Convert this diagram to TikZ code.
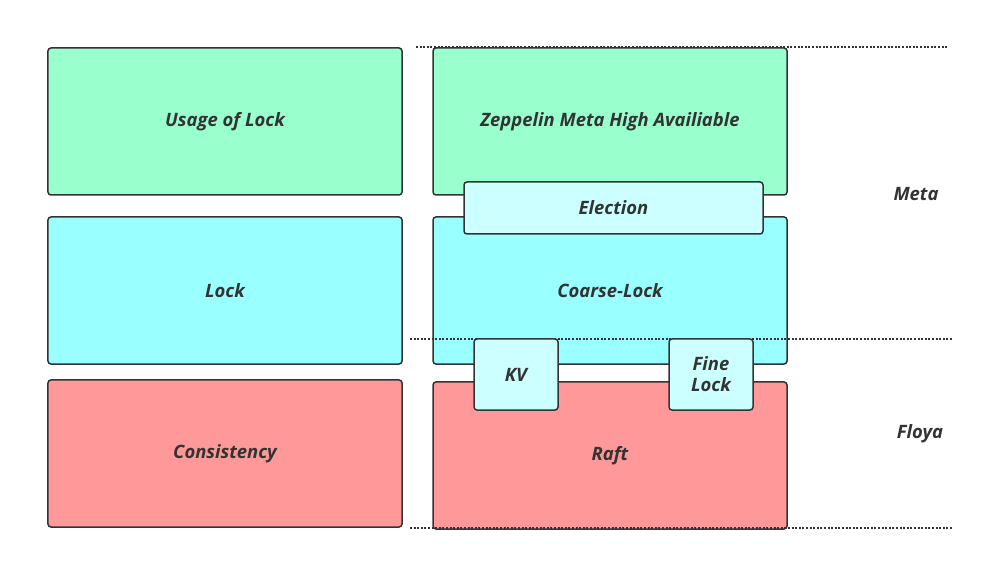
\documentclass[tikz,border=0pt]{standalone}
\usepackage{fontspec}
\setmainfont{Open Sans}
\definecolor{gbox}{HTML}{99FFCC}
\definecolor{cbox}{HTML}{99FFFF}
\definecolor{rbox}{HTML}{FF9999}
\definecolor{lbox}{HTML}{CCFFFF}
\definecolor{edge}{HTML}{333333}
\tikzset{
  blk/.style={draw=edge, line width=1.5bp, rounded corners=3bp, inner sep=0pt, outer sep=0pt,
    text=edge, font=\fontsize{18.5}{21}\selectfont\bfseries\itshape, align=center},
  sepline/.style={draw=edge, line width=2bp, dash pattern=on 2bp off 1.6bp},
  lbl/.style={text=edge, font=\fontsize{18.5}{21}\selectfont\bfseries\itshape, inner sep=0pt}
}
\begin{document}
\begin{tikzpicture}[x=1bp,y=-1bp]
\useasboundingbox[fill=white] (0,0) rectangle (985,561);
% separators
\coordinate (t1) at (416,47); \coordinate (t2) at (948,47);
\coordinate (m1) at (410,339); \coordinate (m2) at (952,339);
\coordinate (b1) at (410,528); \coordinate (b2) at (952,528);
\draw[sepline] (t1) -- (t2);
% left column
\node[blk, fill=gbox, minimum width=354bp, minimum height=147bp] (usage) at (225,121.5) {Usage of Lock};
\node[blk, fill=cbox, minimum width=354bp, minimum height=147bp] (lock) at (225,290.5) {Lock};
\node[blk, fill=rbox, minimum width=354bp, minimum height=147bp] (cons) at (225,453.5) {Consistency};
% right column
\node[blk, fill=gbox, minimum width=354bp, minimum height=147bp] (zep) at (610,121.5) {Zeppelin Meta High Availiable};
\node[blk, fill=cbox, minimum width=354bp, minimum height=147bp] (coarse) at (610,290.5) {Coarse-Lock};
\node[blk, fill=rbox, minimum width=354bp, minimum height=147bp] (raft) at (610,455.5) {Raft};
\draw[sepline] (m1) -- (m2);
\draw[sepline] (b1) -- (b2);
% small boxes
\node[blk, fill=lbox, minimum width=299bp, minimum height=52bp] (elec) at (613.5,208) {Election};
\node[blk, fill=lbox, minimum width=84bp, minimum height=71bp] (kv) at (516,374.5) {KV};
\node[blk, fill=lbox, minimum width=84bp, minimum height=71bp] (fine) at (711,374.5) {Fine\\Lock};
% side labels
\node[lbl] (meta) at (916,194) {Meta};
\node[lbl] (floya) at (920,434) {Floya};
\end{tikzpicture}
\end{document}
